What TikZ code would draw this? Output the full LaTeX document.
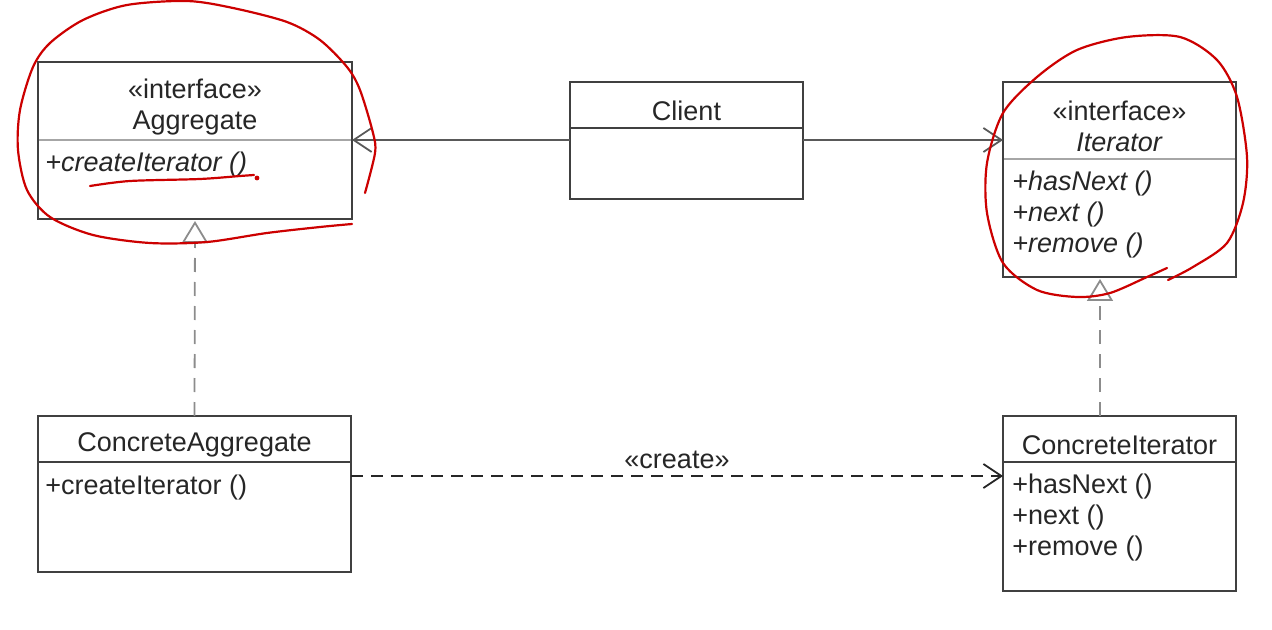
\documentclass[tikz,border=0pt]{standalone}
\usepackage{fontspec}
\setmainfont{Liberation Sans}
\usetikzlibrary{positioning,arrows.meta}
\tikzset{
  umlbox/.style={draw=black!75, line width=0.9pt, inner sep=0pt, outer sep=0pt},
  umltext/.style={inner sep=0pt, text=black!85, font=\fontsize{13.5}{15.5}\selectfont, align=left},
  headtext/.style={label={[umltext, align=center, yshift=-3pt]center:#1}},
  divider/.style={draw=black!35, line width=0.9pt},
  assoc/.style={draw=black!65, line width=0.9pt, -{Straight Barb[length=9pt,width=12pt]}},
  realize/.style={draw=black!45, line width=0.9pt, dash pattern=on 7pt off 5pt,
    -{Triangle[open,length=11pt,width=13pt,fill=white]}, shorten >=1pt},
  depend/.style={draw=black!85, line width=0.9pt, dash pattern=on 6pt off 4pt,
    -{Straight Barb[length=9pt,width=12pt]}},
  scribble/.style={draw=red!80!black, line width=1.1pt, line cap=round, line join=round},
}
\begin{document}
\begin{tikzpicture}[x=0.5pt,y=-0.5pt]
\useasboundingbox (0,0) rectangle (1272,630);
% interfaces
\node[umlbox, minimum width=157pt, minimum height=39pt, headtext={«interface»\\Aggregate}] (aggregateHead) at (195,101) {};
\node[umlbox, minimum width=157pt, minimum height=39.5pt, below=0pt of aggregateHead] (aggregateBody) {};
\draw[divider] ([xshift=0.45pt]aggregateBody.north west) -- ([xshift=-0.45pt]aggregateBody.north east);
\node[umltext, anchor=north west] (aggregateOps) at (45,152) {\textit{+createIterator ()}};
\node[umlbox, minimum width=116.5pt, minimum height=38.5pt, headtext={«interface»\\\textit{Iterator}}] (iteratorHead) at (1119.5,120.5) {};
\node[umlbox, minimum width=116.5pt, minimum height=59pt, below=0pt of iteratorHead] (iteratorBody) {};
\draw[divider] ([xshift=0.45pt]iteratorBody.north west) -- ([xshift=-0.45pt]iteratorBody.north east);
\node[umltext, anchor=north west] (iteratorOps) at (1012,171) {\textit{+hasNext ()}\\\textit{+next ()}\\\textit{+remove ()}};
% client
\node[umlbox, minimum width=116.5pt, minimum height=23pt, headtext=Client] (clientHead) at (686.5,105) {};
\node[umlbox, minimum width=116.5pt, minimum height=35.5pt, below=0pt of clientHead] (clientBody) {};
% concrete classes
\node[umlbox, minimum width=156.5pt, minimum height=23pt, headtext=ConcreteAggregate] (concAggHead) at (194.5,439) {};
\node[umlbox, minimum width=156.5pt, minimum height=55pt, below=0pt of concAggHead] (concAggBody) {};
\node[umltext, anchor=north west] (concAggOps) at (45,475) {+createIterator ()};
\node[umlbox, minimum width=116.5pt, minimum height=23pt, headtext=ConcreteIterator] (concIterHead) at (1119.5,439) {};
\node[umlbox, minimum width=116.5pt, minimum height=64.5pt, below=0pt of concIterHead] (concIterBody) {};
\node[umltext, anchor=north west] (concIterOps) at (1012,474) {+hasNext ()\\+next ()\\+remove ()};
% connectors
\coordinate (clientLinkW) at ([yshift=-6pt]clientBody.north west);
\coordinate (clientLinkE) at ([yshift=-6pt]clientBody.north east);
\draw[assoc] (clientLinkW) -- (clientLinkW -| aggregateHead.east);
\draw[assoc] (clientLinkE) -- (clientLinkE -| iteratorHead.west);
\draw[realize] (concAggHead.north) -- (aggregateBody.south);
\coordinate (iterLink) at ([xshift=-9.75pt]concIterHead.north);
\draw[realize] (iterLink) -- (iterLink |- iteratorBody.south);
\coordinate (createLink) at ([yshift=-7pt]concAggBody.north east);
\draw[depend] (createLink) -- (createLink -| concIterBody.west)
  node[midway, above=3pt, umltext] {«create»};
% red marks
\draw[scribble] plot[smooth] coordinates {(365,193) (375,153) (373,133) (360,90) (347,67) (320,40) (287,22) (233,8) (187,1) (127,5) (83,20) (50,43) (33,67) (20,110) (18,150) (27,190) (50,217) (93,235) (150,243) (207,242) (267,233) (320,227) (352,224)};
\draw[scribble] plot[smooth] coordinates {(90,186) (130,181) (200,179) (240,176) (254,175)};
\fill[red!80!black] (257,178) circle (1.2pt);
\draw[scribble] plot[smooth] coordinates {(1168,280) (1193,267) (1227,243) (1243,203) (1247,157) (1237,97) (1217,60) (1180,37) (1127,37) (1077,50) (1037,77) (1003,113) (987,163) (987,213) (1003,263) (1037,290) (1077,297) (1110,293) (1147,277) (1167,268)};
\end{tikzpicture}
\end{document}
